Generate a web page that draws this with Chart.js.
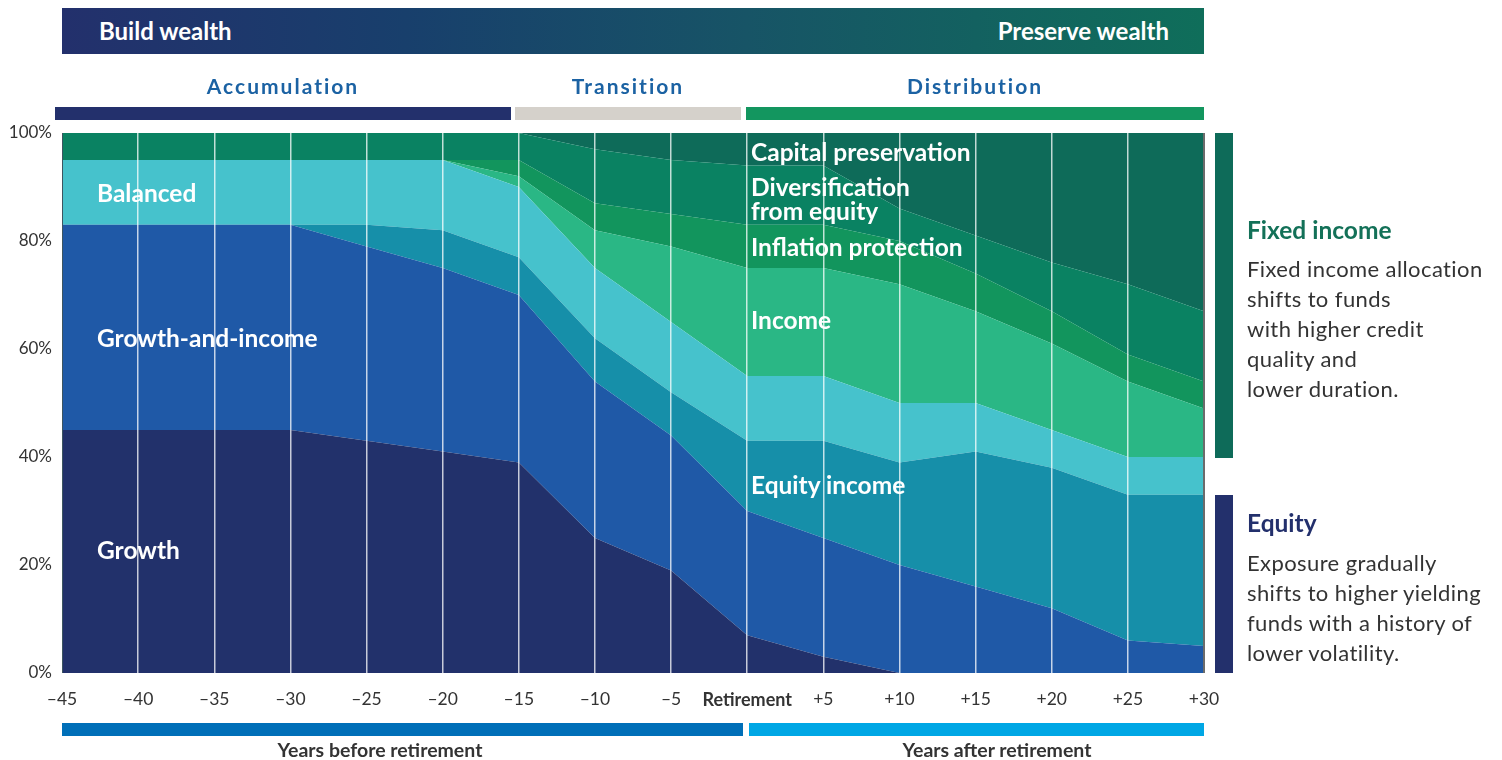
<!DOCTYPE html>
<html>
<head>
<meta charset="utf-8">
<script src="https://cdn.jsdelivr.net/npm/chart.js@4.4.1/dist/chart.umd.min.js"></script>
<style>
  html, body { margin: 0; padding: 0; background: #fff; }
  #wrap { position: relative; width: 1502px; height: 760px; overflow: hidden; font-family: Lato, "Noto Sans", sans-serif; }
  #chart { position: absolute; left: 0; top: 0; }
  .abs { position: absolute; white-space: nowrap; }
  .bar { position: absolute; }
  .phase { font-weight: 700; font-size: 21px; color: #1b62a3; letter-spacing: 2px; transform: translateX(-50%); line-height: 24px; }
  .series { color: #fff; font-weight: 700; font-size: 24.5px; line-height: 24px; }
  .head { font-weight: 700; font-size: 24.5px; line-height: 28px; }
  .body { font-size: 22px; letter-spacing: 0.4px; color: #333; line-height: 30px; }
  .foot { font-weight: 700; font-size: 19.5px; color: #333; transform: translateX(-50%); line-height: 22px; }
</style>
</head>
<body>
<div id="wrap">
  <canvas id="chart" width="1502" height="760"></canvas>

  <div class="bar" style="left:62px;top:8px;width:1142px;height:46px;background:linear-gradient(to right,#23306c 0%,#183f6c 30%,#175466 60%,#0f6e5a 100%);"></div>
  <div class="abs head" style="left:99px;top:17px;color:#fff;font-size:24px;">Build wealth</div>
  <div class="abs head" style="right:333px;top:17px;color:#fff;font-size:24px;">Preserve wealth</div>

  <div class="abs phase" style="left:283px;top:74px;">Accumulation</div>
  <div class="abs phase" style="left:628px;top:74px;">Transition</div>
  <div class="abs phase" style="left:975px;top:74px;">Distribution</div>
  <div class="bar" style="left:55px;top:107px;width:456px;height:13px;background:#23306c;"></div>
  <div class="bar" style="left:515px;top:107px;width:226px;height:13px;background:#d5d1cb;"></div>
  <div class="bar" style="left:746px;top:107px;width:458px;height:13px;background:#13965f;"></div>

  <div class="abs series" style="left:97px;top:181px;">Balanced</div>
  <div class="abs series" style="left:97px;top:326px;">Growth-and-income</div>
  <div class="abs series" style="left:97px;top:538px;">Growth</div>
  <div class="abs series" style="left:751px;top:140px;">Capital preservation</div>
  <div class="abs series" style="left:751px;top:175px;">Diversification</div>
  <div class="abs series" style="left:751px;top:199px;">from equity</div>
  <div class="abs series" style="left:751px;top:235px;">Inflation protection</div>
  <div class="abs series" style="left:751px;top:308px;">Income</div>
  <div class="abs series" style="left:751px;top:473px;">Equity income</div>

  <div class="bar" style="left:1215px;top:133px;width:18px;height:325px;background:#0e6b59;"></div>
  <div class="bar" style="left:1215px;top:495px;width:18px;height:178px;background:#23306c;"></div>
  <div class="abs head" style="left:1247px;top:216px;color:#137158;">Fixed income</div>
  <div class="abs body" style="left:1247px;top:254px;">Fixed income allocation<br>shifts to funds<br>with higher credit<br>quality and<br>lower duration.</div>
  <div class="abs head" style="left:1247px;top:509px;color:#23306c;">Equity</div>
  <div class="abs body" style="left:1247px;top:548px;">Exposure gradually<br>shifts to higher yielding<br>funds with a history of<br>lower volatility.</div>

  <div class="bar" style="left:62px;top:723px;width:681px;height:13px;background:#006fb8;"></div>
  <div class="bar" style="left:749px;top:723px;width:455px;height:13px;background:#00a7e5;"></div>
  <div class="abs foot" style="left:380px;top:739px;">Years before retirement</div>
  <div class="abs foot" style="left:997px;top:739px;">Years after retirement</div>
</div>

<script>
const years = ['–45', '–40', '–35', '–30', '–25', '–20', '–15', '–10', '–5', 'Retirement', '+5', '+10', '+15', '+20', '+25', '+30'];
const yTicks = [0, 20, 40, 60, 80, 100];

// allocation (%) at each point, bottom layer first
const growth = [45, 45, 45, 45, 43, 41, 39, 25, 19, 7, 3, 0, 0, 0, 0, 0];
const growthAndIncome = [38, 38, 38, 38, 36, 34, 31, 29, 25, 23, 22, 20, 16, 12, 6, 5];
const equityIncome = [0, 0, 0, 0, 4, 7, 7, 8, 8, 13, 18, 19, 25, 26, 27, 28];
const balanced = [12, 12, 12, 12, 12, 13, 13, 13, 13, 12, 12, 11, 9, 7, 7, 7];
const income = [0, 0, 0, 0, 0, 0, 2, 7, 14, 20, 20, 22, 17, 16, 14, 9];
const inflationProtection = [0, 0, 0, 0, 0, 0, 3, 5, 6, 8, 8, 8, 7, 6, 5, 5];
const diversification = [5, 5, 5, 5, 5, 5, 5, 10, 10, 11, 11, 6, 7, 9, 13, 13];
const capitalPreservation = [0, 0, 0, 0, 0, 0, 0, 3, 5, 6, 6, 14, 19, 24, 28, 33];

const font = 'Lato, "Noto Sans", sans-serif';

function layer(label, data, color, fill) {
  return {
    label,
    data,
    backgroundColor: color,
    borderColor: color,
    borderWidth: 0,
    pointRadius: 0,
    tension: 0,
    fill
  };
}

new Chart(document.getElementById('chart'), {
  type: 'line',
  data: {
    labels: years,
    datasets: [
      layer('Growth', growth, '#22316b', 'origin'),
      layer('Growth-and-income', growthAndIncome, '#1f59a7', '-1'),
      layer('Equity income', equityIncome, '#168fa9', '-1'),
      layer('Balanced', balanced, '#46c2cc', '-1'),
      layer('Income', income, '#2ab785', '-1'),
      layer('Inflation protection', inflationProtection, '#12955d', '-1'),
      layer('Diversification from equity', diversification, '#0a8262', '-1'),
      layer('Capital preservation', capitalPreservation, '#0e6b59', '-1')
    ]
  },
  options: {
    responsive: false,
    animation: false,
    layout: { padding: { left: 0, right: 298, top: 133, bottom: 47 } },
    plugins: { legend: { display: false }, tooltip: { enabled: false } },
    scales: {
      x: {
        z: 1,
        offset: false,
        border: { display: false },
        grid: {
          z: 1,
          drawTicks: false,
          color: (c) => c.index === 15 ? '#6b6b6b' : c.index === 0 ? '#3d5560' : 'rgba(255,255,255,0.75)',
          lineWidth: (c) => c.index === 15 ? 2 : c.index === 0 ? 1 : 1.5
        },
        afterFit: (s) => { s.height = 40; },
        ticks: {
          autoSkip: false,
          maxRotation: 0,
          padding: 16,
          color: '#333',
          font: (c) => c.index === 9 ? { family: font, size: 18, weight: 'bold' } : { family: font, size: 17.5 }
        }
      },
      y: {
        stacked: true,
        min: 0,
        max: 100,
        border: { display: false },
        grid: { display: false, drawTicks: false },
        afterFit: (s) => { s.width = 62; },
        afterBuildTicks: (s) => { s.ticks = yTicks.map(v => ({ value: v })); },
        ticks: {
          padding: 10,
          color: '#333',
          font: { family: font, size: 17 },
          callback: (v) => v + '%'
        }
      }
    }
  }
});
</script>
</body>
</html>
